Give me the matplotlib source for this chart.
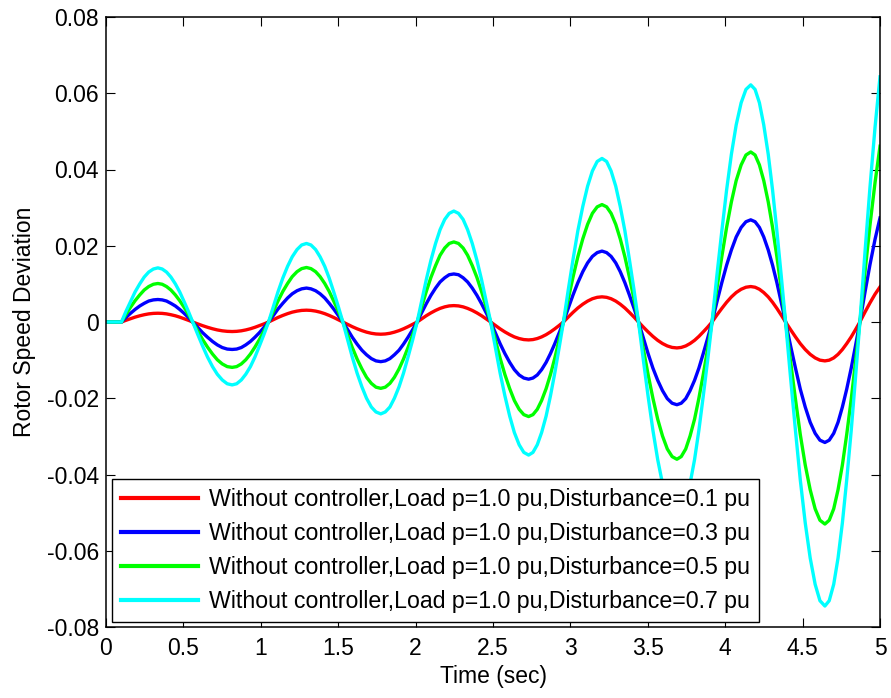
import matplotlib
matplotlib.use("Agg")
import matplotlib.pyplot as plt
from matplotlib.ticker import FuncFormatter

plt.rcParams["font.family"] = ["Liberation Sans", "DejaVu Sans"]
plt.rcParams["axes.unicode_minus"] = False

# time samples (sec), one row per half-swing
time_s = [
    0.000, 0.050,
    0.100, 0.129, 0.159, 0.188, 0.218, 0.247, 0.276, 0.306, 0.335, 0.363, 0.391, 0.419, 0.448, 0.476, 0.504, 0.532,
    0.560, 0.592, 0.624, 0.656, 0.688, 0.719, 0.751, 0.783, 0.815, 0.844, 0.874, 0.903, 0.933, 0.962, 0.991, 1.021,
    1.050, 1.081, 1.111, 1.142, 1.173, 1.203, 1.234, 1.264, 1.295, 1.324, 1.354, 1.383, 1.413, 1.442, 1.471, 1.501,
    1.530, 1.561, 1.591, 1.622, 1.653, 1.683, 1.714, 1.744, 1.775, 1.804, 1.834, 1.863, 1.893, 1.922, 1.951, 1.981,
    2.010, 2.040, 2.069, 2.099, 2.129, 2.158, 2.188, 2.217, 2.247, 2.277, 2.307, 2.336, 2.366, 2.396, 2.426, 2.455,
    2.485, 2.516, 2.546, 2.577, 2.608, 2.638, 2.669, 2.699, 2.730, 2.758, 2.786, 2.814, 2.843, 2.871, 2.899, 2.927,
    2.955, 2.986, 3.017, 3.048, 3.080, 3.111, 3.142, 3.173, 3.204, 3.234, 3.263, 3.293, 3.322, 3.352, 3.381, 3.411,
    3.440, 3.471, 3.502, 3.533, 3.564, 3.595, 3.626, 3.657, 3.688, 3.716, 3.745, 3.773, 3.802, 3.830, 3.858, 3.887,
    3.915, 3.946, 3.978, 4.009, 4.040, 4.071, 4.103, 4.134, 4.165, 4.193, 4.221, 4.249, 4.278, 4.306, 4.334, 4.362,
    4.390, 4.422, 4.454, 4.485, 4.517, 4.549, 4.581, 4.612, 4.644, 4.672, 4.701, 4.729, 4.757, 4.785, 4.814, 4.842,
    4.870, 4.903, 4.935, 4.968, 5.000,
]

# disturbance 0.1 pu
dev_01 = [
    0, 0,
    0, .00045, .00088, .00128, .00163, .00191, .00213, .00226, .0023, .00226, .00213, .00191, .00163, .00128, .00088, .00045,
    0, -.00049, -.00096, -.00139, -.00177, -.00208, -.00231, -.00245, -.0025, -.00245, -.00231, -.00208, -.00177, -.00139, -.00096, -.00049,
    0, .00060, .00119, .00172, .00219, .00258, .00286, .00304, .0031, .00304, .00286, .00258, .00219, .00172, .00119, .00060,
    0, -.00062, -.00123, -.00178, -.00226, -.00266, -.00296, -.00314, -.0032, -.00314, -.00296, -.00266, -.00226, -.00178, -.00123, -.00062,
    0, .00084, .00165, .00239, .00304, .00357, .00397, .00422, .0043, .00422, .00397, .00357, .00304, .00239, .00165, .00084,
    0, -.00092, -.00180, -.00261, -.00332, -.00391, -.00434, -.00461, -.0047, -.00461, -.00434, -.00391, -.00332, -.00261, -.00180, -.00092,
    0, .00129, .00253, .00367, .00467, .00548, .00610, .00647, .0066, .00647, .00610, .00548, .00467, .00367, .00253, .00129,
    0, -.00133, -.00260, -.00378, -.00481, -.00565, -.00628, -.00667, -.0068, -.00667, -.00628, -.00565, -.00481, -.00378, -.00260, -.00133,
    0, .00181, .00356, .00517, .00658, .00773, .00859, .00912, .0093, .00912, .00859, .00773, .00658, .00517, .00356, .00181,
    0, -.00199, -.00391, -.00567, -.00721, -.00848, -.00942, -.01001, -.0102, -.01001, -.00942, -.00848, -.00721, -.00567, -.00391, -.00199,
    0, .0026, .0050, .0073, .0092,
]

# disturbance 0.3 pu
dev_03 = [
    0, 0,
    0, .0012, .0023, .0033, .0042, .0049, .0055, .0058, .0059, .0058, .0055, .0049, .0042, .0033, .0023, .0012,
    0, -.0014, -.0028, -.0040, -.0051, -.0060, -.0067, -.0071, -.0072, -.0071, -.0067, -.0060, -.0051, -.0040, -.0028, -.0014,
    0, .0017, .0034, .0049, .0063, .0074, .0082, .0087, .0089, .0087, .0082, .0074, .0063, .0049, .0034, .0017,
    0, -.0020, -.0040, -.0058, -.0074, -.0086, -.0096, -.0102, -.0104, -.0102, -.0096, -.0086, -.0074, -.0058, -.0040, -.0020,
    0, .0025, .0048, .0070, .0089, .0105, .0116, .0124, .0126, .0124, .0116, .0105, .0089, .0070, .0048, .0025,
    0, -.0029, -.0057, -.0083, -.0106, -.0125, -.0139, -.0147, -.0150, -.0147, -.0139, -.0125, -.0106, -.0083, -.0057, -.0029,
    0, .0036, .0071, .0103, .0132, .0155, .0172, .0182, .0186, .0182, .0172, .0155, .0132, .0103, .0071, .0036,
    0, -.0042, -.0083, -.0121, -.0153, -.0180, -.0201, -.0213, -.0217, -.0213, -.0201, -.0180, -.0153, -.0121, -.0083, -.0042,
    0, .0052, .0103, .0149, .0189, .0223, .0248, .0263, .0268, .0263, .0248, .0223, .0189, .0149, .0103, .0052,
    0, -.0062, -.0121, -.0176, -.0223, -.0263, -.0292, -.0310, -.0316, -.0310, -.0292, -.0263, -.0223, -.0176, -.0121, -.0062,
    0, .0078, .0150, .0217, .0273,
]

# disturbance 0.5 pu
dev_05 = [
    0, 0,
    0, .0020, .0039, .0056, .0071, .0084, .0093, .0099, .0101, .0099, .0093, .0084, .0071, .0056, .0039, .0020,
    0, -.0023, -.0046, -.0066, -.0084, -.0099, -.0110, -.0117, -.0119, -.0117, -.0110, -.0099, -.0084, -.0066, -.0046, -.0023,
    0, .0028, .0055, .0080, .0101, .0119, .0132, .0140, .0143, .0140, .0132, .0119, .0101, .0080, .0055, .0028,
    0, -.0034, -.0067, -.0097, -.0123, -.0145, -.0161, -.0171, -.0174, -.0171, -.0161, -.0145, -.0123, -.0097, -.0067, -.0034,
    0, .0041, .0080, .0117, .0148, .0175, .0194, .0206, .0210, .0206, .0194, .0175, .0148, .0117, .0080, .0041,
    0, -.0048, -.0095, -.0138, -.0175, -.0206, -.0229, -.0243, -.0248, -.0243, -.0229, -.0206, -.0175, -.0138, -.0095, -.0048,
    0, .0060, .0118, .0171, .0218, .0256, .0285, .0302, .0308, .0302, .0285, .0256, .0218, .0171, .0118, .0060,
    0, -.0070, -.0138, -.0200, -.0255, -.0299, -.0333, -.0353, -.0360, -.0353, -.0333, -.0299, -.0255, -.0200, -.0138, -.0070,
    0, .0087, .0171, .0248, .0315, .0371, .0412, .0438, .0446, .0438, .0412, .0371, .0315, .0248, .0171, .0087,
    0, -.0103, -.0203, -.0295, -.0375, -.0440, -.0490, -.0520, -.0530, -.0520, -.0490, -.0440, -.0375, -.0295, -.0203, -.0103,
    0, .0131, .0253, .0366, .0461,
]

# disturbance 0.7 pu
dev_07 = [
    0, 0,
    0, .0028, .0054, .0079, .0100, .0118, .0131, .0139, .0142, .0139, .0131, .0118, .0100, .0079, .0054, .0028,
    0, -.0032, -.0063, -.0092, -.0117, -.0137, -.0152, -.0162, -.0165, -.0162, -.0152, -.0137, -.0117, -.0092, -.0063, -.0032,
    0, .0040, .0079, .0115, .0146, .0171, .0190, .0202, .0206, .0202, .0190, .0171, .0146, .0115, .0079, .0040,
    0, -.0047, -.0092, -.0134, -.0170, -.0200, -.0223, -.0236, -.0241, -.0236, -.0223, -.0200, -.0170, -.0134, -.0092, -.0047,
    0, .0057, .0111, .0162, .0206, .0242, .0269, .0285, .0291, .0285, .0269, .0242, .0206, .0162, .0111, .0057,
    0, -.0068, -.0134, -.0194, -.0247, -.0290, -.0322, -.0342, -.0349, -.0342, -.0322, -.0290, -.0247, -.0194, -.0134, -.0068,
    0, .0084, .0164, .0239, .0303, .0356, .0396, .0421, .0429, .0421, .0396, .0356, .0303, .0239, .0164, .0084,
    0, -.0099, -.0195, -.0284, -.0361, -.0424, -.0471, -.0500, -.0510, -.0500, -.0471, -.0424, -.0361, -.0284, -.0195, -.0099,
    0, .0121, .0238, .0346, .0440, .0517, .0575, .0610, .0622, .0610, .0575, .0517, .0440, .0346, .0238, .0121,
    0, -.0145, -.0285, -.0414, -.0527, -.0619, -.0688, -.0731, -.0745, -.0731, -.0688, -.0619, -.0527, -.0414, -.0285, -.0145,
    0, .0183, .0352, .0511, .0643,
]

labels = [
    "Without controller,Load p=1.0 pu,Disturbance=0.1 pu",
    "Without controller,Load p=1.0 pu,Disturbance=0.3 pu",
    "Without controller,Load p=1.0 pu,Disturbance=0.5 pu",
    "Without controller,Load p=1.0 pu,Disturbance=0.7 pu",
]
colors = ["#ff0000", "#0000ff", "#00ff00", "#00ffff"]

x_ticks = [0, 0.5, 1, 1.5, 2, 2.5, 3, 3.5, 4, 4.5, 5]
y_ticks = [-0.08, -0.06, -0.04, -0.02, 0, 0.02, 0.04, 0.06, 0.08]

fig = plt.figure(figsize=(8.91, 6.98), dpi=100)
ax = fig.add_axes([106 / 891, 1 - 627 / 698, 774 / 891, 610 / 698])

for series, lab, col in zip([dev_01, dev_03, dev_05, dev_07], labels, colors):
    ax.plot(time_s, series, color=col, linewidth=2.4, label=lab)

ax.set_xlim(0, 5)
ax.set_ylim(-0.08, 0.08)
ax.set_xticks(x_ticks)
ax.set_yticks(y_ticks)
fmt = FuncFormatter(lambda v, p: f"{v:g}")
ax.xaxis.set_major_formatter(fmt)
ax.yaxis.set_major_formatter(fmt)
ax.tick_params(direction="in", length=6.5, width=0.8, labelsize=16.5,
               top=True, right=True)
ax.tick_params(axis="x", pad=7)
ax.tick_params(axis="y", pad=5)
for sp in ax.spines.values():
    sp.set_linewidth(1.1)

ax.set_xlabel("Time (sec)", fontsize=16.5, labelpad=4)
ax.set_ylabel("Rotor Speed Deviation", fontsize=16.5, labelpad=8)

leg = ax.legend(loc="lower left", bbox_to_anchor=(0.0074, 0.0082), borderaxespad=0,
                fontsize=16.7, handlelength=3.3, handletextpad=0.5,
                labelspacing=0.47, fancybox=False, framealpha=1,
                edgecolor="black", borderpad=0.4)
leg.get_frame().set_linewidth(1.0)
for h in leg.get_lines():
    h.set_linewidth(3.0)

fig.savefig("out.png", dpi=100)
